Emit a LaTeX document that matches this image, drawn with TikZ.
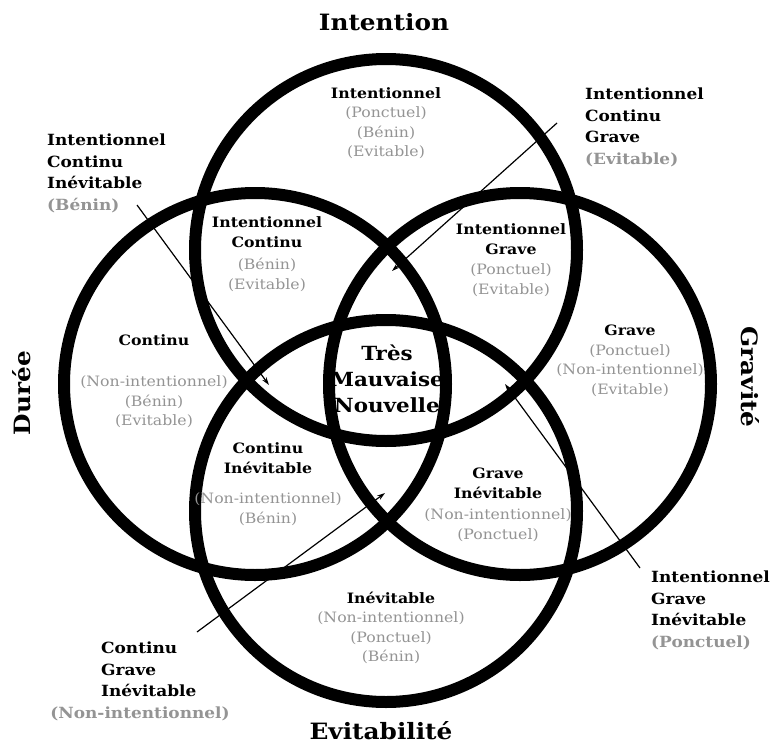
\documentclass[tikz,border=0pt]{standalone}
\usepackage{fontspec}
\setmainfont{DejaVu Serif}[FakeStretch=1.1]
\usepackage{tikz}
\usetikzlibrary{arrows.meta}

\definecolor{note}{gray}{0.58}
\newcommand{\nt}[1]{\textcolor{note}{#1}}

\tikzset{
  ring/.style={draw=black, line width=12pt},
  region/.style={align=center, inner sep=0pt, font=\fontsize{14.3}{19.5}\selectfont},
  corner/.style={align=left, inner sep=0pt, anchor=north west,
                 font=\bfseries\fontsize{15.4}{21.5}\selectfont},
  title/.style={inner sep=0pt, font=\bfseries\fontsize{22.5}{26}\selectfont},
  pointer/.style={-{Stealth[length=8pt,width=5pt]}, line width=1.2pt}
}

\begin{document}
\begin{tikzpicture}[x=1pt, y=-1pt]
  \useasboundingbox (0,0) rectangle (774,744);

  % centres of the four circles
  \coordinate (intention) at (386,250);
  \coordinate (duree)     at (255,384);
  \coordinate (gravite)   at (520,384);
  \coordinate (evit)      at (386,511);

  % thick rings
  \foreach \c in {intention, duree, gravite, evit}
    \draw[ring] (\c) circle [radius=191];

  % axis titles
  \node[title] (t-int) at (384,22) {Intention};
  \node[title] (t-evi) at (381,731) {Evitabilité};
  \node[title, rotate=90]  (t-dur) at (22,393) {Durée};
  \node[title, rotate=-90] (t-gra) at (750,377) {Gravité};

  % single and double regions
  \node[region] (r-i) at (386,123)
    {\textbf{Intentionnel}\\\nt{(Ponctuel)}\\\nt{(Bénin)}\\\nt{(Evitable)}};
  \node[region] (r-ic) at (267,254)
    {\textbf{Intentionnel}\\\textbf{Continu}\\[3pt]\nt{(Bénin)}\\\nt{(Evitable)}};
  \node[region] (r-ig) at (511,260)
    {\textbf{Intentionnel}\\\textbf{Grave}\\[1pt]\nt{(Ponctuel)}\\\nt{(Evitable)}};
  \node[region] (r-c) at (154,381)
    {\textbf{Continu}\\[22pt]\nt{(Non-intentionnel)}\\\nt{(Bénin)}\\\nt{(Evitable)}};
  \node[region] (r-g) at (630,361)
    {\textbf{Grave}\\\nt{(Ponctuel)}\\\nt{(Non-intentionnel)}\\\nt{(Evitable)}};
  \node[region] (r-ci) at (268,484)
    {\textbf{Continu}\\\textbf{Inévitable}\\[11pt]\nt{(Non-intentionnel)}\\\nt{(Bénin)}};
  \node[region] (r-gi) at (498,505)
    {\textbf{Grave}\\\textbf{Inévitable}\\[2pt]\nt{(Non-intentionnel)}\\\nt{(Ponctuel)}};
  \node[region] (r-e) at (391,628)
    {\textbf{Inévitable}\\\nt{(Non-intentionnel)}\\\nt{(Ponctuel)}\\\nt{(Bénin)}};

  % the middle
  \node[region, font=\bfseries\fontsize{19.5}{26}\selectfont] (mid) at (387,379)
    {Très\\Mauvaise\\Nouvelle};

  % triple regions, labelled outside
  \node[corner] (ici) at (47,134)
    {Intentionnel\\Continu\\Inévitable\\\nt{(Bénin)}};
  \node[corner] (icg) at (585,88)
    {Intentionnel\\Continu\\Grave\\\nt{(Evitable)}};
  \node[corner] (igi) at (651,571)
    {Intentionnel\\Grave\\Inévitable\\\nt{(Ponctuel)}};
  \node[corner] (cgi) at (101,642)
    {Continu\\Grave\\Inévitable};
  \node[corner, anchor=center] (cgi-nt) at (140,714) {\nt{(Non-intentionnel)}};

  % pointers into the triple regions
  \coordinate (ici-from) at (137,205);  \coordinate (ici-to) at (269,385);
  \coordinate (icg-from) at (557,123);  \coordinate (icg-to) at (392,271);
  \coordinate (cgi-from) at (197,632);  \coordinate (cgi-to) at (385,493);
  \coordinate (igi-from) at (640,568);  \coordinate (igi-to) at (505,384);
  \foreach \p in {ici, icg, cgi, igi}
    \draw[pointer] (\p-from) -- (\p-to);
\end{tikzpicture}
\end{document}
